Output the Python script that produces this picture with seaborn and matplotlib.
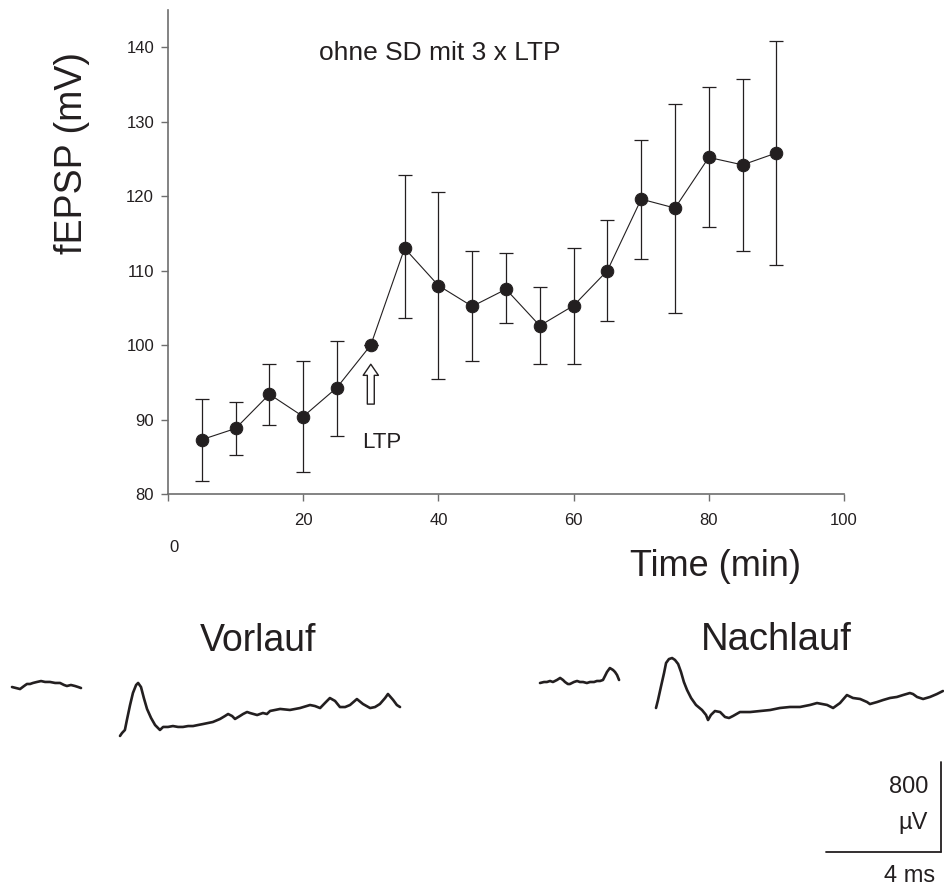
import numpy as np
import pandas as pd
import matplotlib
matplotlib.use("Agg")
import matplotlib.pyplot as plt
import seaborn as sns

# ---------------- data ----------------
time_min = [5, 10, 15, 20, 25, 30, 35, 40, 45, 50, 55, 60, 65, 70, 75, 80, 85, 90]
fepsp = [87.3, 88.8, 93.4, 90.4, 94.3, 100.0, 113.0, 108.0, 105.2, 107.5, 102.6, 105.3,
         110.0, 119.6, 118.4, 125.2, 124.2, 125.8]
err_upper = [92.7, 92.4, 97.5, 97.8, 100.5, 100.0, 122.8, 120.6, 112.6, 112.3, 107.8, 113.1,
             116.8, 127.6, 132.4, 134.6, 135.7, 140.8]
err_lower = [81.7, 85.2, 89.2, 83.0, 87.8, 100.0, 103.7, 95.4, 97.8, 102.9, 97.5, 97.5,
             103.2, 111.5, 104.3, 115.8, 112.6, 110.7]
x_ticks = [0, 20, 40, 60, 80, 100]
y_ticks = [80, 90, 100, 110, 120, 130, 140]

# example traces (time in ms, voltage in µV relative to baseline)
vor_pre_t = [0, 0.14, 0.28, 0.42, 0.52, 0.63, 0.73, 0.87, 1.01, 1.15, 1.32, 1.50, 1.67,
             1.81, 1.91, 2.05, 2.19, 2.30, 2.40]
vor_pre_v = [-9, -18, -27, 0, 18, 18, 27, 36, 44, 36, 36, 27, 27, 9, 0, 9, 0, -9, -18]

vor_t = [0.00, 0.07, 0.17, 0.24, 0.35, 0.45, 0.56, 0.63, 0.73, 0.83, 0.94, 1.08, 1.22, 1.39,
         1.50, 1.67, 1.84, 2.02, 2.19, 2.37, 2.54, 2.71, 2.89, 3.06, 3.23, 3.48, 3.65, 3.76,
         3.90, 4.00, 4.17, 4.28, 4.42, 4.52, 4.77, 4.97, 5.11, 5.22, 5.57, 5.91, 6.26, 6.61,
         6.78, 6.96, 7.13, 7.30, 7.48, 7.65, 7.83, 8.00, 8.24, 8.45, 8.70, 8.87, 9.04, 9.22,
         9.32, 9.50, 9.63, 9.74]
vor_v = [-444, -418, -391, -302, -169, -62, 9, 27, -9, -107, -204, -284, -347, -391,
         -364, -364, -356, -364, -364, -356, -356, -347, -338, -329, -320, -293, -267, -249,
         -267, -293, -267, -249, -231, -240, -258, -240, -249, -222, -204, -213, -196, -169,
         -178, -196, -151, -107, -133, -187, -187, -169, -116, -160, -196, -187, -160, -107,
         -71, -124, -169, -187]

nach_pre_t = [0, 0.14, 0.24, 0.35, 0.45, 0.59, 0.70, 0.80, 0.87, 0.97, 1.04, 1.18, 1.29, 1.39,
              1.50, 1.63, 1.74, 1.88, 1.98, 2.09, 2.19, 2.26, 2.33, 2.43, 2.54, 2.61, 2.68, 2.75]
nach_pre_v = [-9, 0, 0, 9, 0, 18, 36, 18, 0, -18, -18, 0, 9, 0, 0, -9, 0, 0, 9, 9, 18, 53,
              89, 124, 107, 89, 62, 18]

nach_t = [0, 0.07, 0.17, 0.28, 0.35, 0.45, 0.56, 0.66, 0.77, 0.87, 0.97, 1.08, 1.22, 1.39,
          1.60, 1.74, 1.81, 1.91, 2.05, 2.23, 2.40, 2.54, 2.68, 2.92, 3.27, 3.62, 3.97, 4.31,
          4.66, 5.01, 5.36, 5.60, 5.95, 6.16, 6.40, 6.64, 6.85, 7.10, 7.34, 7.44, 7.69, 7.90,
          8.14, 8.38, 8.59, 8.83, 8.94, 9.08, 9.29, 9.53, 9.77, 9.98]
nach_v = [-231, -160, -44, 80, 169, 204, 213, 196, 160, 89, 0, -71, -142, -204, -249, -293,
          -338, -293, -258, -267, -311, -320, -302, -267, -267, -258, -249, -231, -222, -222,
          -204, -187, -204, -231, -187, -116, -142, -151, -178, -196, -178, -160, -142, -133,
          -116, -98, -107, -133, -151, -133, -107, -80]

scale_ms = 4
scale_uv = 800

# ---------------- figure ----------------
sns.set_style("white")
plt.rcParams['font.family'] = ['Liberation Sans', 'DejaVu Sans']

W, H = 945, 892
fig = plt.figure(figsize=(W / 100, H / 100), dpi=100)

ink = "#231f20"
axis_col = "#6e6e6e"

ax = fig.add_axes([168 / W, 1 - 494 / H, (844 - 168) / W, (494 - 10) / H])
df = pd.DataFrame({"t": time_min, "v": fepsp})
ax.errorbar(time_min, fepsp,
            yerr=[np.array(fepsp) - np.array(err_lower), np.array(err_upper) - np.array(fepsp)],
            fmt="none", ecolor=ink, elinewidth=0.9, capsize=5, capthick=0.9, zorder=2)
sns.lineplot(data=df, x="t", y="v", ax=ax, color=ink, linewidth=0.8, marker="o",
             markersize=9, markeredgecolor=ink, markerfacecolor=ink, zorder=3)

ax.set_xlim(0, 100)
ax.set_ylim(80, 145)
ax.set_xticks(x_ticks)
ax.set_xticklabels(["" if v == 0 else str(v) for v in x_ticks])
ax.set_yticks(y_ticks)
ax.set_xlabel("")
ax.set_ylabel("")
for s in ["top", "right"]:
    ax.spines[s].set_visible(False)
for s in ["left", "bottom"]:
    ax.spines[s].set_color(axis_col)
    ax.spines[s].set_linewidth(1.2)
ax.tick_params(axis="y", direction="out", length=5, width=1, color=axis_col, pad=5,
               labelsize=12, labelcolor=ink, left=True)
ax.tick_params(axis="x", direction="out", length=5, width=1, color=axis_col, pad=9,
               labelsize=12, labelcolor=ink, bottom=True)
ax.patch.set_alpha(0)

ax.text(40.2, 139.2, "ohne SD mit 3 x LTP", fontsize=19, color=ink,
        ha="center", va="center")
# LTP arrow and label
ax.annotate("", xy=(30, 97.8), xytext=(30, 91.7),
            arrowprops=dict(arrowstyle="simple,head_width=1.1,head_length=0.8,tail_width=0.5",
                            fc="white", ec=ink, lw=1))
ax.text(31.6, 86.9, "LTP", fontsize=16, color=ink, ha="center", va="center")

fig.text(174 / W, 1 - 547 / H, "0", fontsize=12, color=ink, ha="center", va="center")
fig.text(72 / W, 1 - 153 / H, "fEPSP (mV)", fontsize=27, color=ink, rotation=90,
         ha="center", va="center")
fig.text(716 / W, 1 - 566 / H, "Time (min)", fontsize=26, color=ink, ha="center", va="center")

# ---------------- traces ----------------
px_per_ms = 28.75
uv_per_px = 100 / 11.25
axt = fig.add_axes([0, 0, 1, (892 - 600) / H])
axt.set_xlim(0, W / px_per_ms)
axt.set_ylim(0, (892 - 600) * uv_per_px)
axt.axis("off")
axt.patch.set_alpha(0)

vor_base = (892 - 686) * uv_per_px
nach_base = (892 - 682) * uv_per_px
segments = [
    (vor_pre_t, vor_pre_v, 12 / px_per_ms, vor_base),
    (vor_t, vor_v, 120 / px_per_ms, vor_base),
    (nach_pre_t, nach_pre_v, 540 / px_per_ms, nach_base),
    (nach_t, nach_v, 656 / px_per_ms, nach_base),
]
for t, v, t0, b in segments:
    sns.lineplot(x=np.array(t) + t0, y=np.array(v) + b, ax=axt, color=ink, linewidth=1.9,
                 sort=False, estimator=None)

# scale bar
sb_x0 = 826 / px_per_ms
sb_y0 = (892 - 852) * uv_per_px
axt.plot([sb_x0, sb_x0 + scale_ms], [sb_y0, sb_y0], color=ink, lw=1.3)
axt.plot([sb_x0 + scale_ms, sb_x0 + scale_ms], [sb_y0, sb_y0 + scale_uv], color=ink, lw=1.3)

fig.text(258 / W, 1 - 641 / H, "Vorlauf", fontsize=27, color=ink, ha="center", va="center")
fig.text(776 / W, 1 - 640 / H, "Nachlauf", fontsize=27.5, color=ink, ha="center", va="center")
fig.text(928 / W, 1 - 787 / H, str(scale_uv), fontsize=17, color=ink, ha="right", va="center")
fig.text(928 / W, 1 - 823 / H, "µV", fontsize=17, color=ink, ha="right", va="center")
fig.text(910 / W, 1 - 876 / H, f"{scale_ms} ms", fontsize=17, color=ink, ha="center",
         va="center")

fig.savefig("out.png", dpi=100, facecolor="white")
